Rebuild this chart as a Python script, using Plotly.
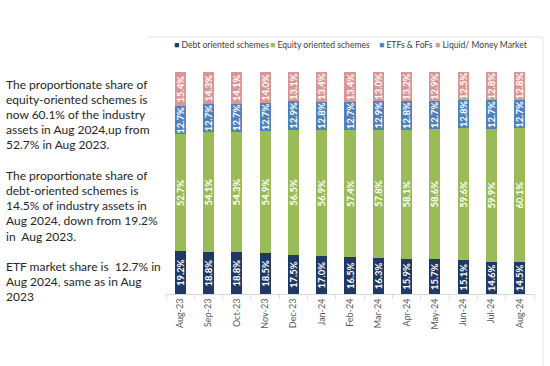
import plotly.graph_objects as go

months = ["Aug-23", "Sep-23", "Oct-23", "Nov-23", "Dec-23", "Jan-24", "Feb-24",
          "Mar-24", "Apr-24", "May-24", "Jun-24", "Jul-24", "Aug-24"]
debt = [19.2, 18.8, 18.8, 18.5, 17.5, 17.0, 16.5, 16.3, 15.9, 15.7, 15.1, 14.6, 14.5]
equity = [52.7, 54.1, 54.3, 54.9, 56.5, 56.9, 57.4, 57.8, 58.1, 58.6, 59.6, 59.9, 60.1]
etf = [12.7, 12.7, 12.7, 12.7, 12.9, 12.8, 12.7, 12.9, 12.8, 12.7, 12.8, 12.7, 12.7]
liquid = [15.4, 14.3, 14.1, 14.0, 13.1, 13.4, 13.4, 13.0, 13.2, 12.9, 12.5, 12.8, 12.8]

series_names = ["Debt oriented schemes", "Equity oriented schemes", "ETFs & FoFs", "Liquid/ Money Market"]
series_values = [debt, equity, etf, liquid]
colors = ["#1F3864", "#9BBB59", "#4F81BD", "#DA9694"]

notes = [
    "The proportionate share of",
    "equity-oriented schemes is",
    "now 60.1% of the industry",
    "assets in Aug 2024,up from",
    "52.7% in Aug 2023.",
    "",
    "The proportionate share of",
    "debt-oriented schemes is",
    "14.5% of industry assets in",
    "Aug 2024, down from 19.2%",
    "in  Aug 2023.",
    "",
    "ETF market share is  12.7% in",
    "Aug 2024, same as in Aug",
    "2023",
]

W, H = 550, 366
L, R, T, B = 166, 534, 72, 294

def px(x):
    return (x - L) / (R - L)

def py(y):
    return (B - y) / (B - T)

fig = go.Figure()
for name, vals, col in zip(series_names, series_values, colors):
    fig.add_trace(go.Bar(
        x=months, y=vals, name=name, marker_color=col, marker_line_width=0,
        text=[f"{v:.1f}%" for v in vals], textposition="inside",
        insidetextanchor="middle", textangle=-90, constraintext="none",
        textfont=dict(family="Lato", size=9.5, color="white", weight="bold"),
        showlegend=False,
    ))

annotations = []
# custom legend
leg_x = [172, 268, 377, 433]
for name, col, x in zip(series_names, colors, leg_x):
    annotations.append(dict(
        x=px(x), y=py(45), xref="paper", yref="paper", xanchor="left", yanchor="middle",
        text=f'<span style="color:{col}">■</span> {name}', showarrow=False,
        font=dict(family="Lato", size=8.6, color="#404040"),
    ))

# left text
y0 = 84
for i, line in enumerate(notes):
    if not line:
        continue
    annotations.append(dict(
        x=px(4), y=py(y0 + i * 15.2), xref="paper", yref="paper", xanchor="left", yanchor="middle",
        text=line, showarrow=False, font=dict(family="Lato", size=12, color="#262626"),
    ))

shapes = [
    dict(type="line", xref="paper", yref="paper", x0=px(147), x1=px(543), y0=py(37), y1=py(37),
         line=dict(color="#e6e6e6", width=1)),
    dict(type="line", xref="paper", yref="paper", x0=px(543), x1=px(543), y0=py(37), y1=py(366),
         line=dict(color="#e6e6e6", width=1)),
]

fig.update_layout(
    width=W, height=H, barmode="stack", bargap=0.61,
    margin=dict(l=L, r=W - R, t=T, b=H - B, pad=0, autoexpand=False),
    plot_bgcolor="white", paper_bgcolor="white",
    annotations=annotations, shapes=shapes,
    xaxis=dict(tickangle=-90, tickfont=dict(family="Lato", size=9, color="#595959"),
               showline=True, linecolor="#d9d9d9", linewidth=1, ticks="outside",
               tickson="boundaries", ticklen=4, tickcolor="#d9d9d9", showgrid=False,
               automargin=False),
    yaxis=dict(range=[0, 100], visible=False),
)

fig.write_html("out.html", config={"displayModeBar": False},
               post_script="document.body.style.margin='0';document.body.style.overflow='hidden';")
